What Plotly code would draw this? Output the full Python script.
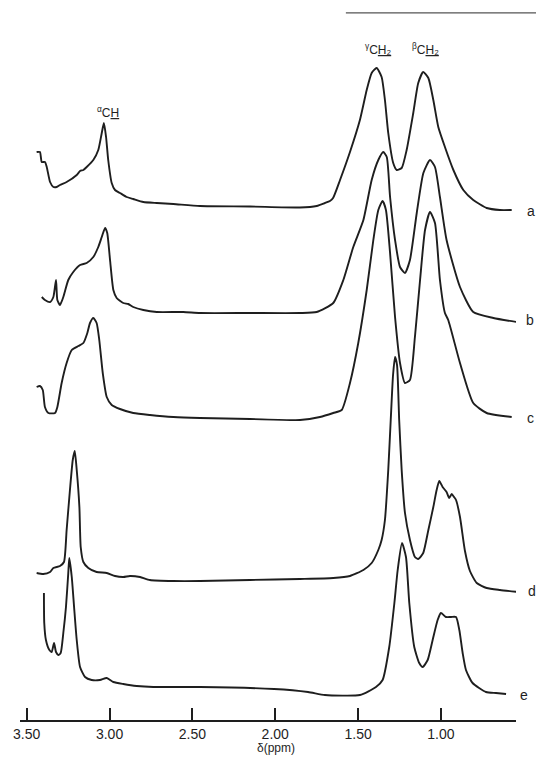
import plotly.graph_objects as go

SAMPLES = ["a", "b", "c", "d", "e"]
OFFSETS = [509, 400, 302, 129, 25]

PPM_A = [3.440, 3.420, 3.409, 3.390, 3.379, 3.359, 3.339, 3.319, 3.299, 3.259, 3.198, 3.178, 3.158,
         3.138, 3.098, 3.068, 3.047, 3.034, 3.021, 3.008, 2.987, 2.967, 2.937, 2.897, 2.857, 2.796,
         2.715, 2.615, 2.454, 2.152, 1.851, 1.750, 1.700, 1.670, 1.651, 1.609, 1.549, 1.489, 1.448,
         1.418, 1.388, 1.358, 1.338, 1.318, 1.288, 1.267, 1.237, 1.207, 1.167, 1.137, 1.107, 1.076,
         1.046, 1.016, 0.976, 0.925, 0.865, 0.805, 0.724, 0.644, 0.573]
INT_A = [59, 59, 49, 49, 44, 29, 24, 24, 26, 29, 36, 40, 41,
         44, 51, 61, 78, 88, 74, 51, 28, 21, 18, 14, 12, 9,
         8, 7, 5, 4.5, 3.5, 5, 8, 10, 13, 31, 59, 91, 121,
         138, 143, 134, 111, 78, 48, 41, 43, 61, 98, 128, 139, 133,
         111, 84, 64, 41, 21, 11, 3, 1, 1]

PPM_B = [3.409, 3.390, 3.359, 3.339, 3.323, 3.315, 3.299, 3.279, 3.249, 3.219, 3.178, 3.138, 3.098,
         3.068, 3.047, 3.027, 3.014, 2.997, 2.977, 2.957, 2.917, 2.887, 2.857, 2.796, 2.715, 2.555,
         2.454, 2.152, 1.851, 1.750, 1.650, 1.589, 1.529, 1.468, 1.418, 1.378, 1.348, 1.327, 1.307,
         1.277, 1.247, 1.217, 1.187, 1.146, 1.106, 1.066, 1.036, 1.006, 0.966, 0.885, 0.805, 0.684,
         0.543]
INT_B = [23, 20, 18, 23, 40, 20, 15, 23, 40, 48, 55, 57, 63,
         73, 83, 92, 87, 60, 30, 22, 17, 16, 13, 10, 8, 8,
         7, 7, 7, 8, 17, 40, 73, 100, 140, 160, 168, 163, 123,
         80, 53, 47, 60, 107, 147, 160, 153, 123, 80, 33, 8, 2,
         -2]

PPM_C = [3.440, 3.420, 3.403, 3.390, 3.369, 3.329, 3.315, 3.289, 3.259, 3.228, 3.188, 3.158, 3.134,
         3.118, 3.098, 3.078, 3.062, 3.041, 3.017, 2.987, 2.937, 2.857, 2.756, 2.615, 2.454, 2.152,
         1.851, 1.730, 1.650, 1.599, 1.549, 1.499, 1.448, 1.408, 1.378, 1.352, 1.332, 1.307, 1.277,
         1.247, 1.217, 1.187, 1.157, 1.126, 1.096, 1.066, 1.036, 1.006, 0.976, 0.956, 0.885, 0.805,
         0.724, 0.573]
INT_C = [31, 32, 28, 11, 5, 5, 11, 35, 55, 68, 72, 75, 85,
         95, 100, 95, 78, 45, 21, 13, 9, 5, 3, 1, 0, -1,
         -2, 1, 5, 8, 35, 75, 128, 178, 208, 217, 208, 165, 101,
         55, 35, 38, 81, 138, 188, 206, 195, 138, 105, 98, 55, 15,
         5, 1]

PPM_D = [3.440, 3.400, 3.359, 3.339, 3.299, 3.275, 3.259, 3.239, 3.222, 3.210, 3.198, 3.182, 3.174,
         3.158, 3.128, 3.078, 3.017, 2.967, 2.917, 2.877, 2.816, 2.756, 2.615, 2.454, 2.152, 1.851,
         1.650, 1.549, 1.468, 1.418, 1.378, 1.358, 1.338, 1.318, 1.303, 1.289, 1.277, 1.265, 1.252,
         1.237, 1.217, 1.187, 1.157, 1.137, 1.107, 1.076, 1.046, 1.026, 1.010, 0.990, 0.966, 0.950,
         0.935, 0.921, 0.909, 0.885, 0.855, 0.825, 0.784, 0.724, 0.644, 0.533]
INT_D = [18, 17, 19, 23, 25, 29, 61, 101, 131, 140, 121, 84, 44,
         29, 23, 19, 18, 15, 14, 15, 14, 11, 10, 10, 11, 12,
         13, 15, 21, 28, 41, 51, 71, 121, 171, 216, 234, 226, 171,
         121, 78, 51, 34, 32, 38, 61, 84, 101, 110, 104, 99, 93,
         97, 94, 91, 74, 40, 20, 8, 3, 1, -1]

PPM_E = [3.396, 3.394, 3.384, 3.363, 3.349, 3.335, 3.323, 3.309, 3.295, 3.279, 3.263, 3.249, 3.243,
         3.228, 3.214, 3.198, 3.178, 3.148, 3.108, 3.058, 3.017, 2.977, 2.917, 2.836, 2.736, 2.454,
         2.007, 1.802, 1.700, 1.489, 1.392, 1.352, 1.312, 1.281, 1.261, 1.235, 1.211, 1.191, 1.161,
         1.131, 1.110, 1.080, 1.050, 1.020, 1.000, 0.970, 0.939, 0.909, 0.889, 0.869, 0.849, 0.809,
         0.728, 0.668, 0.607]
INT_E = [102, 72, 55, 45, 43, 52, 43, 40, 42, 62, 88, 122, 137,
         118, 88, 55, 28, 18, 15, 15, 17, 13, 11, 9, 8, 8,
         6, 3, 0, 0, 8, 15, 48, 92, 125, 152, 138, 92, 48,
         32, 28, 35, 55, 75, 82, 78, 78, 78, 65, 42, 25, 12,
         3, 2, 1]

SERIES_PPM = [PPM_A, PPM_B, PPM_C, PPM_D, PPM_E]
SERIES_INT = [INT_A, INT_B, INT_C, INT_D, INT_E]

PEAK_LABELS = ["<sup>α</sup>C<u>H</u>", "<sup>γ</sup>C<u>H₂</u>", "<sup>β</sup>C<u>H₂</u>"]
PEAK_LABEL_PPM = [3.009, 1.374, 1.096]
PEAK_LABEL_Y = [608, 671, 671]

TICK_VALUES = [3.5, 3.0, 2.5, 2.0, 1.5, 1.0]
TICK_LABELS = ["3.50", "3.00", "2.50", "2.00", "1.50", "1.00"]
X_TITLE = "δ(ppm)"

INK = "#1e1e1e"
FONT = "Liberation Sans"

fig = go.Figure()
label_shift = [15, 14, 14, 16, 8]
for name, off, ppm, inten, sh in zip(SAMPLES, OFFSETS, SERIES_PPM, SERIES_INT, label_shift):
    fig.add_trace(go.Scatter(
        x=ppm, y=[v + off for v in inten], mode="lines",
        line=dict(color=INK, width=1.9, shape="spline", smoothing=0.55),
        showlegend=False, hoverinfo="skip", name=name))
    fig.add_annotation(x=1.0, xref="paper", y=off, yref="y", text=name, showarrow=False,
                       xanchor="center", yanchor="middle", xshift=sh,
                       font=dict(family=FONT, size=14, color=INK))

for txt, px, py in zip(PEAK_LABELS, PEAK_LABEL_PPM, PEAK_LABEL_Y):
    fig.add_annotation(x=px, y=py, xref="x", yref="y", text=txt, showarrow=False,
                       xanchor="center", yanchor="middle",
                       font=dict(family=FONT, size=12, color=INK))

fig.add_annotation(x=0.517, xref="paper", y=-0.039, yref="paper", text=X_TITLE, showarrow=False,
                   xanchor="center", yanchor="middle", font=dict(family=FONT, size=12, color=INK))

# page border fragment visible at top right of the scan
fig.add_shape(type="line", xref="paper", yref="paper", x0=0.657, x1=1.05, y0=0.982, y1=0.982,
              line=dict(color="#555555", width=1.3))

fig.update_layout(
    width=536, height=759,
    margin=dict(l=20, r=20, t=0, b=39),
    paper_bgcolor="white", plot_bgcolor="white",
    xaxis=dict(range=[3.5404, 0.547], tickvals=TICK_VALUES, ticktext=TICK_LABELS,
               ticks="inside", ticklen=12, tickwidth=1.5, tickcolor=INK,
               showline=True, linecolor=INK, linewidth=1.5,
               showgrid=False, zeroline=False,
               tickfont=dict(family=FONT, size=14, color=INK)),
    yaxis=dict(range=[0, 720], visible=False, showgrid=False, zeroline=False),
)

fig.write_html("out.html", config={"displayModeBar": False},
               post_script="document.body.style.margin='0';document.body.style.overflow='hidden';")
